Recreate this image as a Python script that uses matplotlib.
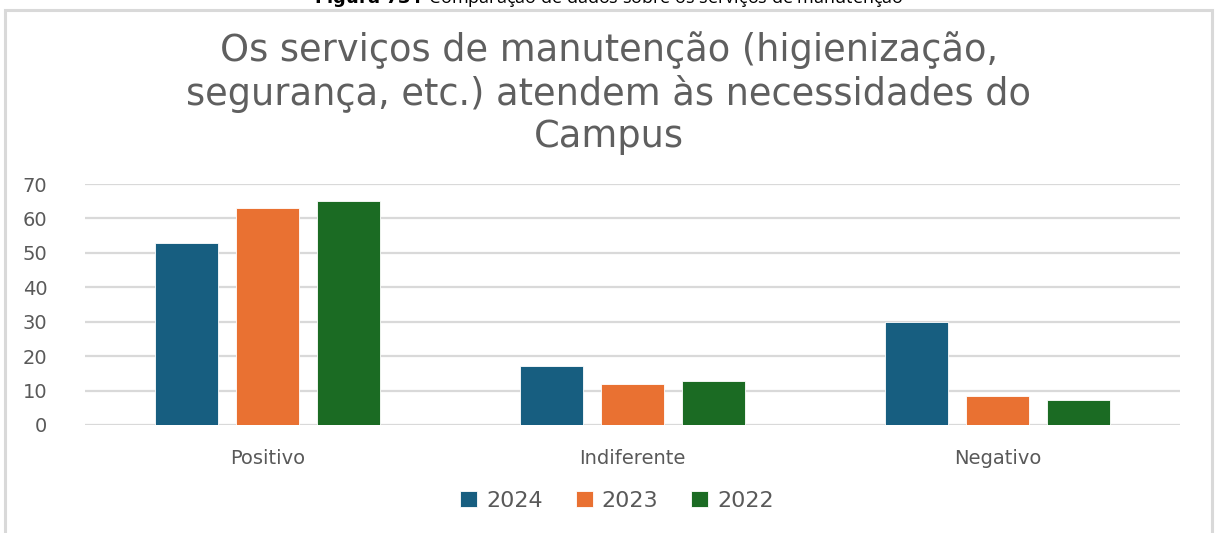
import numpy as np
import matplotlib
matplotlib.use("Agg")
from matplotlib import pyplot as plt
from matplotlib.patches import Rectangle

categories = ["Positivo", "Indiferente", "Negativo"]
years = ["2024", "2023", "2022"]
values_2024 = [53, 17, 30]
values_2023 = [63, 12, 8.3]
values_2022 = [65.2, 12.8, 7.3]
colors = ["#175e80", "#e97132", "#1b6b23"]
title = "Os serviços de manutenção (higienização,\nsegurança, etc.) atendem às necessidades do\nCampus"

plt.rcParams["font.family"] = ["DejaVu Sans"]

W, H = 1218, 533
fig = plt.figure(figsize=(W / 100, H / 100), dpi=100)

# chart frame (bottom edge runs off the figure)
fig.patches.append(Rectangle((5 / W, -0.05), 1207 / W, 1.05 - 10 / H,
                             transform=fig.transFigure, fill=False,
                             edgecolor="#d9d9d9", linewidth=2.2))

# caption above the frame, only its lower part shows
fig.text(0.5, 1 - 3 / H, r"$\bf{Figura\ 73:}$ Comparação de dados sobre os serviços de manutenção",
         ha="center", va="baseline", fontsize=13, color="black",
         family=["Open Sans", "DejaVu Sans"])

fig.text(0.5 + 0 / W, 1 - 93 / H, title, ha="center", va="center",
         fontsize=26.5, color="#5f5f5f", linespacing=1.18)

ax = fig.add_axes([85 / W, 1 - 425 / H, (1180 - 85) / W, (425 - 184) / H])

x = np.arange(len(categories))
step = 0.222
width = 0.173
series = [values_2024, values_2023, values_2022]
for i, (vals, year) in enumerate(zip(series, years)):
    ax.bar(x + (i - 1) * step, vals, width, color=colors[i], label=year,
           edgecolor="white", linewidth=0.6, zorder=3)

ax.set_xlim(-0.5, 2.5)
ax.set_ylim(0, 70)
ax.set_yticks(range(0, 71, 10))
ax.yaxis.grid(True, color="#d9d9d9", linewidth=1.6, zorder=0)
ax.set_axisbelow(True)
for s in ax.spines.values():
    s.set_visible(False)
ax.tick_params(axis="both", length=0, labelsize=14, colors="#595959")
ax.tick_params(axis="y", pad=27)
ax.tick_params(axis="x", pad=17)
ax.set_xticks(x)
ax.set_xticklabels(categories)

leg = fig.legend(loc="center", bbox_to_anchor=(0.5 + 8 / W, 1 - 501 / H), ncol=3,
                 frameon=False, fontsize=16, handlelength=0.75, handleheight=0.75,
                 handletextpad=0.4, columnspacing=1.5)
for t in leg.get_texts():
    t.set_color("#595959")

fig.savefig("out.png", dpi=100)
